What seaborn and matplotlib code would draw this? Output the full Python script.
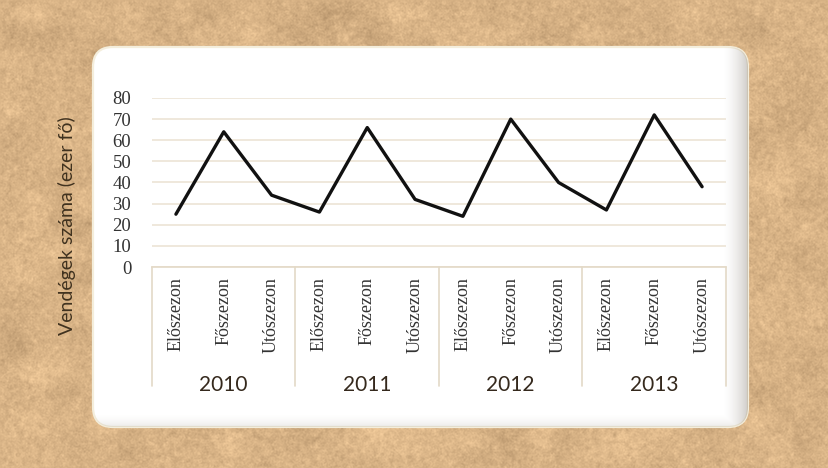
import numpy as np
import pandas as pd
import matplotlib
matplotlib.use("Agg")
import matplotlib.pyplot as plt
from matplotlib.patches import FancyBboxPatch
from matplotlib.lines import Line2D
import seaborn as sns

# Visitor numbers (thousand people) per season, 2010-2013
years = ["2010", "2011", "2012", "2013"]
seasons = ["Előszezon", "Főszezon", "Utószezon"]
visitors_2010 = [25, 64, 34]
visitors_2011 = [26, 66, 32]
visitors_2012 = [24, 70, 40]
visitors_2013 = [27, 72, 38]
y_ticks = [0, 10, 20, 30, 40, 50, 60, 70, 80]
y_label = "Vendégek száma (ezer fő)"

rows = []
for yr, vals in zip(years, [visitors_2010, visitors_2011, visitors_2012, visitors_2013]):
    for s, v in zip(seasons, vals):
        rows.append({"year": yr, "season": s, "value": v})
df = pd.DataFrame(rows)
df["pos"] = np.arange(len(df))

sns.set_theme(style="white")

W, H = 829, 468
fig = plt.figure(figsize=(W / 100, H / 100), dpi=100)

# ---- kraft paper background ----
bg = fig.add_axes([0, 0, 1, 1])
rng = np.random.default_rng(7)


def smooth(a, n, passes):
    k = np.ones(n) / n
    for _ in range(passes):
        a = np.apply_along_axis(lambda r: np.convolve(r, k, mode="same"), 1, a)
        a = np.apply_along_axis(lambda c: np.convolve(c, k, mode="same"), 0, a)
    return a


fine = smooth(rng.normal(0, 1, (H, W)), 2, 1)
fibre = smooth(rng.normal(0, 1, (H, W)), 4, 2)
coarse = smooth(np.kron(rng.normal(0, 1, (H // 24 + 2, W // 24 + 2)), np.ones((24, 24)))[:H, :W], 15, 3)
base = np.array([216, 179, 134]) / 255.0
var = fine * 0.035 + fibre * 0.09 + coarse * 0.03
tex = base[None, None, :] + var[..., None] * np.array([1.0, 0.92, 0.78])
tex = np.clip(tex, 0, 1)
bg.imshow(tex, extent=[0, W, H, 0], interpolation="bilinear")
bg.set_xlim(0, W)
bg.set_ylim(H, 0)
bg.set_aspect("auto")
bg.axis("off")

# ---- white rounded card ----
px0, py0, px1, py1, rad = 93, 47, 748, 427, 20
card = FancyBboxPatch((px0 + rad, py0 + rad), (px1 - px0) - 2 * rad, (py1 - py0) - 2 * rad,
                      boxstyle=f"round,pad={rad}", facecolor="white",
                      edgecolor="#f4eedc", linewidth=1.6, zorder=2)
bg.add_patch(card)

# inner shade along the right and bottom edges of the card
cw, ch = px1 - px0, py1 - py0
xx = np.arange(cw)[None, :].repeat(ch, 0)
yy = np.arange(ch)[:, None].repeat(cw, 1)
a_right = np.clip((xx - (cw - 26)) / 26.0, 0, 1) ** 1.6 * 0.42
a_bottom = np.clip((yy - (ch - 14)) / 14.0, 0, 1) ** 1.6 * 0.18
alpha = np.maximum(a_right, a_bottom)
shade = np.zeros((ch, cw, 4))
shade[..., 0] = 0.55
shade[..., 1] = 0.52
shade[..., 2] = 0.48
shade[..., 3] = alpha
im = bg.imshow(shade, extent=[px0, px1, py1, py0], interpolation="bilinear", zorder=3)
im.set_clip_path(card)
bg.set_xlim(0, W)
bg.set_ylim(H, 0)

# ---- chart ----
ax_l, ax_r, ax_t, ax_b = 152, 726, 98, 267
ax = fig.add_axes([ax_l / W, 1 - ax_b / H, (ax_r - ax_l) / W, (ax_b - ax_t) / H])
ax.patch.set_alpha(0)
ax.set_zorder(5)

grid_col = "#ebe2d2"
for t in y_ticks:
    ax.axhline(t, color=grid_col, lw=1.1, zorder=1)

sns.lineplot(data=df, x="pos", y="value", ax=ax, color="#111111", lw=2.4,
             zorder=3, sort=False)

ax.set_xlim(-0.5, len(df) - 0.5)
ax.set_ylim(0, 80)
ax.set_yticks(y_ticks)
ax.set_yticklabels([str(t) for t in y_ticks], fontfamily="Liberation Serif",
                   fontsize=13.5, color="#333333")
ax.tick_params(axis="y", length=0, pad=15)
ax.set_xticks([])
ax.set_xlabel("")
ax.set_ylabel("")
for s in ["top", "right", "left"]:
    ax.spines[s].set_visible(False)
ax.spines["bottom"].set_color("#e3d9c7")
ax.spines["bottom"].set_linewidth(1.2)

axis_h = ax_b - ax_t
# season labels, rotated
for i, s in enumerate(df["season"]):
    ax.annotate(s, xy=(i, 0), xycoords=("data", "axes fraction"),
                xytext=(0, -10 * 0.72), textcoords="offset points",
                rotation=90, ha="center", va="top",
                fontfamily="Liberation Serif", fontsize=13, color="#333333")

# year group labels and separators
n = len(seasons)
for g, yr in enumerate(years):
    ax.annotate(yr, xy=(g * n + (n - 1) / 2, 0), xycoords=("data", "axes fraction"),
                xytext=(0, -118 * 0.72), textcoords="offset points",
                ha="center", va="center", fontfamily="Lato", fontsize=15,
                color="#35291d")
for b in range(len(years) + 1):
    xb = b * n - 0.5
    ax.add_line(Line2D([xb, xb], [0, -119 / axis_h], transform=ax.get_xaxis_transform(),
                       color="#e3d9c7", lw=1.2, clip_on=False))

fig.text(67 / W, 1 - 226 / H, y_label, rotation=90, ha="center", va="center",
         fontfamily="Lato", fontsize=14, color="#40321f", zorder=10)

fig.savefig("out.png", dpi=100)
